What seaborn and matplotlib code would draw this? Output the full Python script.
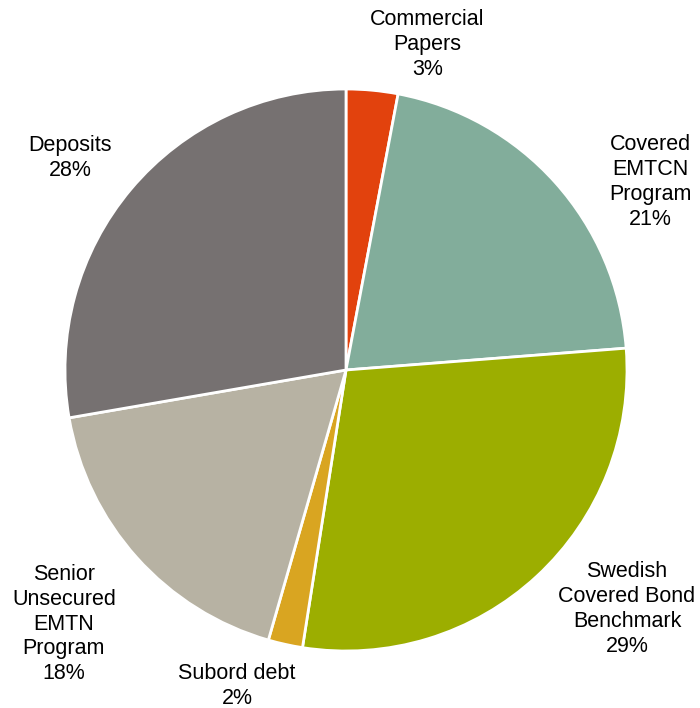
import numpy as np
import matplotlib
matplotlib.use("Agg")
import matplotlib.pyplot as plt
import seaborn as sns

# Funding mix (share of total, %)
categories = [
    "Commercial\nPapers",
    "Covered\nEMTCN\nProgram",
    "Swedish\nCovered Bond\nBenchmark",
    "Subord debt",
    "Senior\nUnsecured\nEMTN\nProgram",
    "Deposits",
]
shares = [3, 21, 29, 2, 18, 28]
colors = ["#E2420D", "#82AD9B", "#9CAE00", "#D9A521", "#B7B2A3", "#767171"]

# Label placement: (angle clockwise from 12 o'clock in degrees, radius as pie-radius multiple)
label_polar = [(14, 1.195), (58.3, 1.272), (130.4, 1.313), (199, 1.19), (228, 1.351), (307.5, 1.238)]

sns.set_theme(style="white")
plt.rcParams["font.family"] = ["Liberation Sans", "DejaVu Sans"]

fig = plt.figure(figsize=(7.0, 7.08), dpi=100)
ax = fig.add_axes([0, 0, 1, 1])

wedges, _ = ax.pie(
    shares,
    colors=colors,
    startangle=90,
    counterclock=False,
    radius=1.0,
    wedgeprops=dict(edgecolor="white", linewidth=2),
)

for name, val, (ang, r) in zip(categories, shares, label_polar):
    th = np.deg2rad(90 - ang)
    ax.text(r * np.cos(th), r * np.sin(th), f"{name}\n{val}%",
            ha="center", va="center", fontsize=15.5, color="#000000",
            linespacing=1.24)

R = 281.0
ax.set_xlim(-346 / R, (700 - 346) / R)
ax.set_ylim(-(708 - 370) / R, 370 / R)
ax.set_aspect("auto")
ax.axis("off")

fig.savefig("out.png", dpi=100, facecolor="white")
